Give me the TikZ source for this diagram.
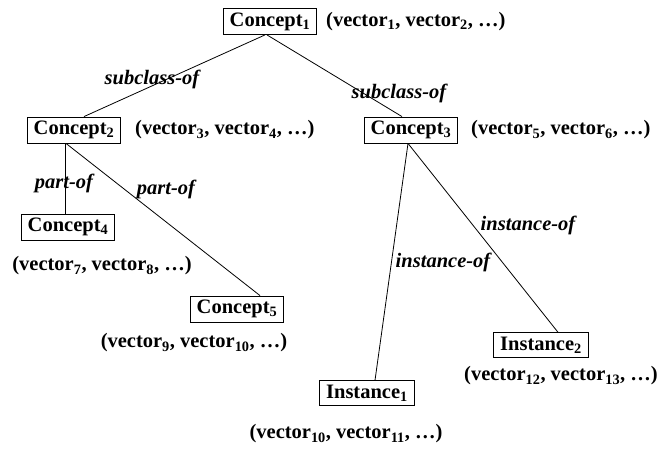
\documentclass[tikz,border=0pt]{standalone}
\usepackage{fontspec}
\setmainfont{Liberation Serif}
\usetikzlibrary{positioning}

\tikzset{
  box/.style={draw, line width=0.9pt, inner xsep=6.5pt, inner ysep=4pt},
  vec/.style={inner sep=1pt},
  rel/.style={inner sep=1pt, font=\fontsize{20.5}{22}\selectfont\bfseries\itshape},
  link/.style={line width=0.8pt}
}

\begin{document}
\begin{tikzpicture}[x=1pt, y=-1pt, font=\fontsize{20.5}{22}\selectfont\bfseries]
\useasboundingbox (0,0) rectangle (663,453);

\node[box] (c1) at (270,21.5) {Concept\textsubscript{1}};
\node[vec, anchor=west] (v1) at (325,21.5) {(vector\textsubscript{1}, vector\textsubscript{2}, \dots)};

\node[box] (c2) at (74,130) {Concept\textsubscript{2}\hspace{11pt}};
\node[vec, anchor=west] (v2) at (134,130) {(vector\textsubscript{3}, vector\textsubscript{4}, \dots)};

\node[box] (c3) at (411,130) {Concept\textsubscript{3}};
\node[vec, anchor=west] (v3) at (470,130) {(vector\textsubscript{5}, vector\textsubscript{6}, \dots)};

\node[box] (c4) at (68,227) {Concept\textsubscript{4}};
\node[vec] (v4) at (102,266) {(vector\textsubscript{7}, vector\textsubscript{8}, \dots)};

\node[box] (c5) at (237,309) {Concept\textsubscript{5}};
\node[vec] (v5) at (194,343) {(vector\textsubscript{9}, vector\textsubscript{10}, \dots)};

\node[box] (i1) at (367,393) {Instance\textsubscript{1}};
\node[vec] (v6) at (346,434) {(vector\textsubscript{10}, vector\textsubscript{11}, \dots)};

\node[box] (i2) at (541,345) {Instance\textsubscript{2}};
\node[vec, anchor=east] (v7) at (659,376) {(vector\textsubscript{12}, vector\textsubscript{13}, \dots)};

% links
\draw[link] ([xshift=-5pt]c1.south) -- ([xshift=10pt]c2.north);
\draw[link] ([xshift=-3pt]c1.south) -- ([xshift=-9pt]c3.north);
\draw[link] ([xshift=-9pt]c2.south) -- ([xshift=-3pt]c4.north);
\draw[link] ([xshift=-8pt]c2.south) -- ([xshift=23pt]c5.north);
\draw[link] ([xshift=-3pt]c3.south) -- ([xshift=8pt]i1.north);
\draw[link] ([xshift=-3pt]c3.south) -- ([xshift=17pt]i2.north);

% relation labels
\node[rel] (r1) at (152,79) {subclass-of};
\node[rel] (r2) at (399,93) {subclass-of};
\node[rel] (r3) at (64,183) {part-of};
\node[rel] (r4) at (166,189) {part-of};
\node[rel] (r5) at (528,225) {instance-of};
\node[rel] (r6) at (443,262) {instance-of};
\end{tikzpicture}
\end{document}
